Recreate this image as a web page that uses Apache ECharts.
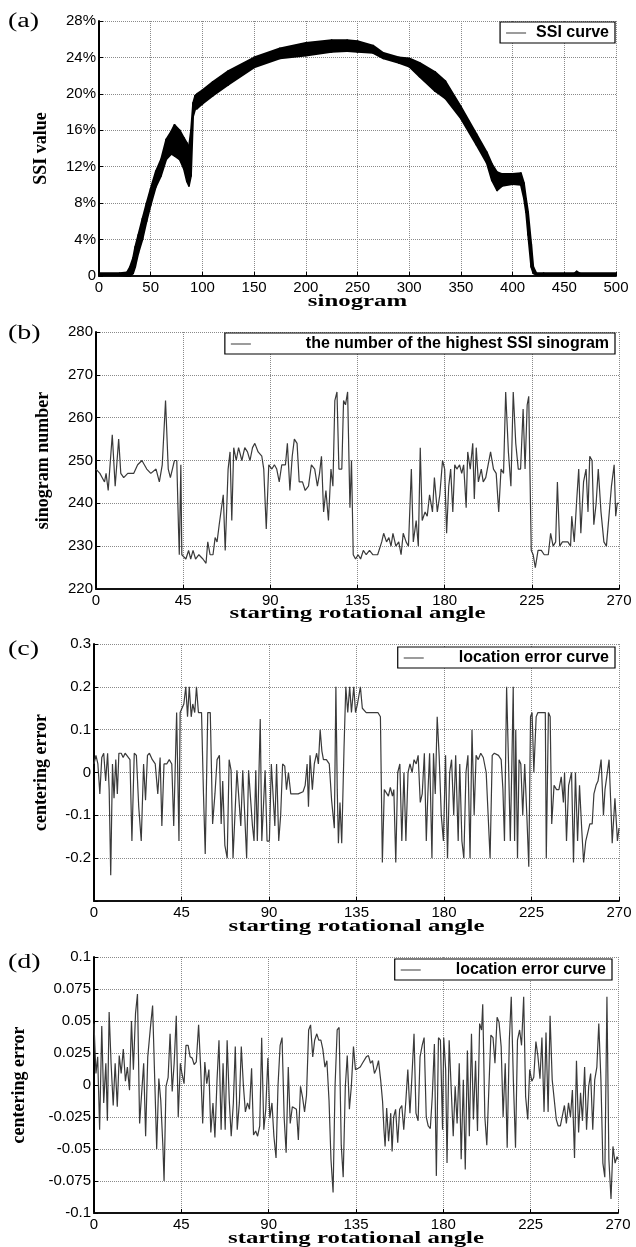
<!DOCTYPE html>
<html><head><meta charset="utf-8">
<script src="https://cdn.jsdelivr.net/npm/echarts@6/dist/echarts.min.js"></script>
<style>html,body{margin:0;padding:0;background:#fff}#c{width:636px;height:1247px}</style>
</head><body><div id="c"></div>
<script>
// ---- Panel (a): SSI curve envelope (sinogram index, lower %, upper %)
const ssiSinogram = [0,20,27,30,33,35,38,42,46,50,55,60,65,70,73,78,82,85,87,89,91,93,95,100,110,125,150,175,200,225,240,250,265,275,290,300,310,325,335,350,365,375,380,385,390,400,408,411,413,415,418,420,423,430,460,462,465,500];
const ssiLower   = [0.1,0.1,0,0,0.3,1.0,2.5,4.0,6.0,7.8,9.8,11.0,12.8,13.4,13.2,12.8,11.8,10.4,9.9,11.0,17.5,18.3,18.4,18.9,19.8,21.0,22.9,23.9,24.2,24.6,24.7,24.6,24.5,23.9,23.4,23.0,21.9,20.3,19.5,17.3,14.4,12.4,10.5,9.4,9.9,10.1,10.0,8.5,7.0,4.5,1.0,0.3,0.1,0.1,0.1,0.1,0.1,0.1];
const ssiUpper   = [0.3,0.3,0.4,1.0,2.0,3.2,4.5,6.3,8.0,9.6,11.5,12.8,15.0,15.9,16.6,16.0,15.2,14.6,14.2,16.0,19.0,19.8,20.0,20.4,21.3,22.5,24.0,25.0,25.6,25.9,25.9,25.8,25.3,24.5,24.0,23.9,23.4,22.4,21.4,18.6,15.6,13.6,12.3,11.4,11.2,11.2,11.3,10.2,8.5,7.0,3.5,1.0,0.3,0.3,0.3,0.5,0.3,0.3];
const ssiXTicks = [0,50,100,150,200,250,300,350,400,450,500];
const ssiYTicks = [0,4,8,12,16,20,24,28];

// ---- Panel (b): number of the highest SSI sinogram vs starting angle
const panelB = [[0,248],[2,247],[4.4,245],[5.2,247],[6.3,243],[8.4,256],[9.9,244],[11.7,255],[12.8,247],[14.3,246],[16.4,247],[19.5,247],[21.5,249],[23.7,250],[26.2,248],[28.3,247],[31,248],[32.7,245],[34.2,249],[35.9,264],[37.3,248],[38.4,246],[40.5,250],[41.7,250],[42.6,234],[43,228],[43.8,249],[44.3,228],[45.1,228],[46.4,227],[47.8,229],[48.9,227],[50.1,229],[51.4,227],[53.1,228],[55.2,227],[56.8,226],[57.7,231],[58.9,228],[60.4,228],[61.5,232],[62.5,231],[63.6,235],[65.7,242],[66.7,229],[68.2,248],[69.2,252],[70.1,236],[71.1,253],[72.4,250],[73.6,253],[75.3,250],[76.8,253],[78.2,252],[79.5,250],[80.8,253],[82,254],[83.7,252],[85.6,251],[86.6,248],[87.9,234],[89.2,249],[90.8,248],[92.1,249],[93.3,248],[94.6,245],[95.9,249],[97.8,249],[98.8,254],[100.1,243],[101.3,251],[102.4,255],[103.8,254],[104.9,245],[106.6,245],[108,243],[109.7,244],[111.2,249],[112.9,248],[114.3,244],[115.4,247],[116.4,251],[117.5,238],[118.7,243],[120,236],[121.3,248],[122.3,244],[123.3,264],[124.4,266],[125.4,248],[126.9,248],[127.8,264],[128.8,263],[129.9,266],[131.1,239],[131.9,250],[132.8,228],[134,227],[135.3,228],[136.6,227],[138,229],[139.5,228],[141.2,229],[142.9,228],[145.4,228],[147.5,231],[148.5,233],[150,231],[151.2,232],[152.3,230],[153.3,233],[154.8,230],[156.3,231],[157.5,228],[158.6,233],[160.1,231],[161.3,230],[162.8,248],[163.8,231],[165.3,236],[166.4,230],[167.4,253],[168.4,236],[169.9,238],[171,237],[172.2,242],[173.7,238],[174.7,246],[176.2,238],[177.5,242],[178.9,250],[180,248],[181,233],[182.1,244],[183.1,248],[184.2,238],[185.2,249],[186.3,248],[187.7,249],[188.8,247],[189.8,249],[191.1,239],[191.9,252],[193.2,248],[194.5,254],[195.3,241],[196.3,253],[197.4,245],[198.9,248],[199.9,245],[201.2,246],[203.7,252],[205.2,248],[206.6,247],[207.9,238],[209.1,248],[210.4,247],[211.5,266],[212.9,252],[214.2,244],[215.4,266],[216.7,254],[218,248],[219.2,248],[220.5,262],[221.5,248],[222.6,263],[223.4,265],[224,248],[224.7,229],[225.7,228],[226.8,225],[228.2,229],[229.9,229],[231.4,228],[233.5,228],[234.7,233],[236,230],[237.3,231],[238.2,245],[239.4,230],[240.8,231],[242.3,231],[243.6,231],[245,230],[245.6,237],[246.9,231],[248.2,241],[249.2,248],[250.3,233],[251.7,245],[253,248],[254,238],[254.9,251],[256.1,250],[257,235],[258.2,240],[259.3,248],[260.7,238],[262.2,231],[263.5,230],[265,238],[266.1,244],[267.5,249],[268.3,237],[269.1,240],[270,240]];
const bYTicks = [220,230,240,250,260,270,280];
const angleTicks = [0,45,90,135,180,225,270];

// ---- Panel (c): location error curve
const panelC = [[0,0.02],[1,0.04],[2,0.02],[3,-0.05],[4,0.035],[5,0.045],[6,-0.02],[7,0.045],[7.8,-0.04],[8.6,-0.24],[9.5,0.02],[10.3,-0.06],[11.2,0.03],[12,-0.05],[12.8,0.045],[14,0.045],[15,0.035],[16,0.045],[17,0.045],[18.5,0.03],[19.5,-0.16],[20.7,0.045],[21.8,0.04],[23,-0.08],[24.3,-0.16],[25.5,0.02],[26.5,-0.065],[27.5,0.04],[28.5,0.045],[30,0.03],[31.5,0.02],[32.8,-0.05],[34,0.035],[34.9,-0.125],[36,0.02],[37.4,0.02],[38.7,0.03],[40,0.02],[41,-0.125],[41.8,-0.125],[42.5,0.14],[43.7,-0.16],[44.3,0.14],[45.3,0.14],[46.2,0.16],[47.2,0.2],[48.1,0.13],[49,0.2],[50,0.13],[50.8,0.16],[51.8,0.14],[52.7,0.2],[53.7,0.14],[55.3,0.14],[56.3,-0.05],[57.2,-0.19],[58.5,0.14],[59.8,0.14],[61,-0.12],[62.2,-0.05],[63.3,0.03],[64.5,0.04],[65.4,-0.12],[66.2,-0.02],[67.3,-0.17],[68.5,-0.2],[69.5,0.03],[70.5,0.005],[71.5,-0.2],[72.5,-0.2],[73.5,0.005],[74.5,0.005],[75.5,-0.125],[76.5,0.005],[77.5,0.005],[78.5,-0.2],[79.5,0.005],[80.5,0.005],[81.5,-0.125],[82.3,-0.16],[83.2,0.005],[84,-0.16],[85.5,0.125],[86.3,-0.16],[87.2,-0.16],[88,0.005],[89,-0.16],[90.2,-0.16],[91.2,0.02],[92.2,0.02],[93,-0.125],[93.9,0.02],[95,-0.16],[96,-0.1],[97,0.02],[98.1,0.015],[99,-0.04],[100,0.0],[101.2,-0.05],[102.7,-0.05],[105,-0.05],[107.5,-0.045],[108.6,-0.03],[109.6,0.02],[110.3,-0.08],[111.1,0.04],[112.3,-0.04],[113.3,0.02],[114.5,0.045],[115.4,0.02],[116.3,0.1],[117.2,0.05],[118,0.03],[119.5,0.03],[121,0.02],[122.2,-0.065],[123.6,-0.13],[124.4,0.2],[125.1,-0.04],[125.7,-0.165],[126.5,-0.07],[127.4,-0.165],[128.6,0.06],[129.5,0.2],[130.5,0.14],[131.5,0.2],[132.4,0.14],[133.6,0.2],[134.5,0.14],[135.5,0.16],[137,0.2],[138,0.15],[140,0.14],[142,0.14],[144,0.14],[146,0.14],[147.3,0.13],[148.3,-0.21],[149.3,-0.04],[150.3,-0.04],[151.4,-0.055],[152.4,-0.035],[153.5,-0.055],[154.2,-0.04],[155.2,-0.21],[156.2,0.0],[157.3,0.02],[158.3,-0.16],[159.4,0.0],[160.4,-0.16],[161.5,0.0],[162.5,0.02],[163.6,0.0],[164.6,0.03],[165.7,0.02],[166.7,0.04],[167.8,-0.07],[168.8,-0.05],[169.9,0.045],[170.9,-0.16],[171.7,-0.05],[172.6,0.045],[173.8,-0.2],[174.6,0.045],[175.5,-0.05],[176.5,0.13],[177.5,0.04],[178.6,-0.1],[179.7,-0.16],[180.8,0.04],[181.8,-0.2],[182.9,0.0],[183.9,0.03],[185,-0.1],[186,0.04],[187.3,-0.16],[188.1,0.02],[189.2,-0.16],[190.2,-0.2],[191.3,0.0],[192.3,0.04],[193.4,-0.2],[194.4,0.1],[195.5,-0.1],[196.5,0.04],[197.6,0.03],[198.9,0.045],[200.2,0.035],[201.7,0.0],[202.7,-0.1],[203.7,-0.2],[204.8,0.04],[205.9,0.045],[206.9,0.045],[208,0.04],[209.4,0.03],[210.3,-0.04],[211.1,-0.16],[212.2,0.2],[213.2,0.02],[214.1,-0.16],[214.9,0.02],[215.6,0.2],[216.3,-0.16],[216.9,0.1],[217.8,-0.2],[218.6,0.03],[219.5,0.02],[220.5,-0.1],[221.5,0.02],[222.6,-0.1],[223.6,-0.22],[224.5,0.13],[225.3,0.14],[226.2,0.0],[227.4,0.13],[228.3,0.14],[229.5,0.14],[231,0.14],[232.1,0.14],[232.6,-0.2],[233.7,0.14],[234.6,0.13],[235.4,-0.12],[236.6,-0.03],[237.9,-0.04],[239.1,-0.04],[240.3,-0.01],[241.4,-0.07],[242,0.0],[243,-0.16],[244.1,-0.03],[245.6,0.0],[246.6,-0.21],[247.6,0.0],[248.7,-0.16],[249.7,-0.03],[250.8,-0.13],[251.8,-0.21],[252.9,-0.16],[253.9,-0.16],[255,-0.12],[256.2,-0.12],[257.1,-0.05],[258.2,-0.03],[259.2,-0.02],[260.8,0.03],[262,-0.1],[262.8,-0.04],[263.8,-0.04],[264.9,0.03],[266,-0.1],[266.5,-0.165],[267.9,-0.06],[269.2,-0.16],[270,-0.13]];
const cYTicks = [-0.3,-0.2,-0.1,0,0.1,0.2,0.3];

// ---- Panel (d): location error curve
const panelD = [[0,0.048],[1,0.009],[1.9,0.022],[2.9,-0.035],[4,0.046],[5,-0.014],[6.1,0.017],[6.9,-0.028],[7.8,0.057],[8.8,0.017],[9.9,-0.016],[10.9,0.017],[12,-0.017],[13,0.023],[14,0.009],[15.1,0.028],[16.2,0.003],[17.2,0.014],[18.3,-0.004],[19.3,0.05],[20.3,0.012],[21.4,0.056],[22.4,0.071],[23.5,-0.03],[24.5,-0.03],[25.6,0.017],[26.6,-0.04],[27.7,0.022],[29.2,0.047],[30.2,0.062],[31.3,0.004],[32.3,-0.05],[33.4,0.005],[34.4,-0.012],[35.5,-0.048],[36.1,-0.075],[37.1,-0.001],[38.2,0.006],[39.2,0.04],[40.3,-0.005],[41.3,0.017],[42.4,0.054],[43.4,-0.025],[44.5,0.017],[45.3,0.009],[46.4,0.001],[47.4,0.031],[48.5,0.031],[49.5,0.022],[50.6,0.021],[51.6,0.016],[52.7,0.018],[53.9,0.047],[55,0.012],[56,-0.03],[57.1,0.018],[58.1,0.001],[59.2,0.012],[60.2,-0.037],[61.3,-0.014],[62.3,-0.041],[63.4,0.004],[64.4,0.035],[65.5,-0.035],[66.5,0.017],[67.6,-0.035],[68.6,0.035],[69.7,-0.012],[70.7,-0.04],[71.8,-0.014],[72.8,0.03],[73.8,-0.035],[74.9,-0.014],[75.9,0.03],[77,-0.001],[78,-0.021],[79.1,-0.014],[80.1,-0.019],[81.2,0.013],[82.2,-0.039],[83.3,-0.036],[84.3,-0.04],[85.4,-0.032],[86.4,0.037],[87.5,-0.035],[88.5,-0.019],[89.6,0.021],[90.6,-0.026],[91.7,-0.014],[92.7,-0.04],[93.8,-0.057],[94.8,-0.001],[95.9,0.031],[96.9,0.037],[98,-0.026],[99,-0.053],[100.1,0.014],[101.1,-0.03],[102.2,-0.017],[103.2,-0.018],[104.3,-0.019],[105.3,-0.043],[106.4,-0.001],[107.4,-0.009],[108.5,-0.021],[109.5,-0.008],[110.6,0.043],[111.6,0.047],[112.7,0.022],[113.7,0.035],[114.8,0.04],[115.8,0.035],[116.9,0.035],[117.9,0.028],[119,0.014],[120,0.019],[121.1,-0.012],[122.1,-0.058],[123.2,-0.084],[124.2,-0.001],[125.3,0.043],[126.3,0.045],[127.4,-0.047],[128.4,-0.072],[129.5,-0.001],[130.5,0.023],[131.6,-0.019],[132.6,-0.001],[133.7,0.03],[134.7,0.012],[136.1,0.013],[137.2,0.014],[138.3,0.017],[139.3,0.016],[140.3,0.022],[141.4,0.023],[142.5,0.017],[143.5,0.019],[144.5,0.009],[145.6,0.013],[146.6,0.019],[147.7,0.004],[148.7,-0.013],[149.4,-0.035],[150,-0.048],[150.8,-0.018],[151.8,-0.044],[152.9,-0.022],[153.6,-0.052],[154.4,-0.025],[155.4,-0.019],[156.5,-0.045],[157.5,-0.019],[158.6,-0.016],[159.6,-0.035],[160.7,-0.012],[161.7,0.012],[162.8,-0.022],[163.8,0.006],[164.9,0.04],[165.9,-0.022],[167,-0.028],[168,0.022],[169.1,0.031],[170.1,0.037],[171.2,-0.025],[172.2,-0.032],[173.3,-0.034],[174.3,-0.009],[175.4,0.032],[176.4,-0.071],[177.5,0.037],[178.5,0.035],[179.6,-0.035],[180.2,0.037],[181.2,0.012],[181.9,-0.061],[183,0.035],[184,0.034],[185.1,-0.04],[186.1,-0.001],[187.1,-0.03],[188.2,0.017],[189.2,-0.058],[190.3,0.004],[191.3,-0.066],[192.4,0.027],[193.4,-0.04],[194.5,0.04],[195.5,-0.027],[196.6,0.019],[197.6,-0.036],[198.7,0.048],[199.7,0.043],[200.3,0.063],[201.4,-0.025],[202.4,-0.047],[203.5,-0.001],[204.5,0.039],[205.6,0.037],[206.6,0.017],[207.7,0.053],[208.7,0.049],[209.8,0.03],[210.8,-0.025],[211.9,0.017],[212.9,-0.049],[214,0.035],[215,0.069],[216.1,0.003],[217.2,-0.049],[218.2,0.035],[219.3,0.043],[220.3,0.031],[221.4,0.069],[222.4,-0.009],[223.5,-0.027],[224.5,0.012],[225.6,0.003],[226.6,0.006],[227.7,0.034],[228.7,0.023],[229.8,0.005],[230.8,0.037],[231.9,-0.021],[232.9,0.041],[234,-0.021],[235,0.054],[236.1,0.004],[237.1,0.004],[238.2,-0.027],[239.2,-0.032],[240.3,-0.032],[241.3,-0.031],[242.4,-0.016],[243.4,-0.03],[244.5,-0.014],[245.5,-0.025],[246.5,-0.004],[247.6,-0.057],[248.6,0.019],[249.7,-0.037],[250.7,-0.006],[251.7,-0.028],[252.8,0.014],[253.8,-0.035],[254.9,-0.001],[255.9,0.009],[257,-0.035],[258,0.004],[259.1,0.014],[260.1,0.048],[261.2,0.004],[262.2,-0.061],[263.2,-0.072],[264.3,0.069],[265.3,-0.058],[266.4,-0.089],[267.4,-0.048],[268.5,-0.061],[269.5,-0.056],[270,-0.058]];
const dYTicks = [-0.1,-0.075,-0.05,-0.025,0,0.025,0.05,0.075,0.1];

const panelLabels = ['(a)','(b)','(c)','(d)'];
const legendNames = ['SSI curve','the number of the highest SSI sinogram','location error curve','location error curve'];
const xTitles = ['sinogram','starting rotational angle','starting rotational angle','starting rotational angle'];
const yTitles = ['SSI value','sinogram number','centering error','centering error'];

// ---- build
const chart = echarts.init(document.getElementById('c'), null, {renderer:'canvas'});
const SANS = 'Liberation Sans, Arial, sans-serif';
const SERIF = 'Liberation Serif, Times New Roman, serif';
const fmtNum = v => String(+(+v).toFixed(3));

const grids = [
  {left:99, top:21, width:517, height:255},
  {left:96, top:332, width:523, height:257},
  {left:94, top:644, width:525, height:257},
  {left:94, top:957, width:524, height:256}
];
const xTickSets = [ssiXTicks, angleTicks, angleTicks, angleTicks];
const yTickSets = [ssiYTicks, bYTicks, cYTicks, dYTicks];
const yNameGaps = [49, 44, 44, 66];

function xAxisOf(i){
  const t = xTickSets[i];
  return {
    type:'value', gridIndex:i, min:t[0], max:t[t.length-1], interval:t[1]-t[0],
    axisLine:{show:true, onZero:false, lineStyle:{color:'#111', width:2}},
    axisTick:{show:true, inside:true, length:4, lineStyle:{color:'#000'}},
    axisLabel:{fontFamily:SANS, fontSize:15, color:'#000', margin:4, showMinLabel:true, showMaxLabel:true},
    splitLine:{show:true, lineStyle:{type:'dotted', color:'#8a8a8a', width:1}}
  };
}
function yAxisOf(i){
  const t = yTickSets[i];
  let fmt;
  if(i===0) fmt = v => v===0 ? '0' : v + '%';
  else if(i===2) fmt = v => (v <= t[0] + 1e-9) ? '' : fmtNum(v);
  else fmt = v => fmtNum(v);
  return {
    type:'value', gridIndex:i, min:t[0], max:t[t.length-1], interval:+(t[1]-t[0]).toFixed(4),
    name:yTitles[i], nameLocation:'middle', nameGap:yNameGaps[i],
    nameTextStyle:{fontFamily:SERIF, fontWeight:'bold', fontSize:18, color:'#000'},
    axisLine:{show:true, onZero:false, lineStyle:{color:'#000', width:2}},
    axisTick:{show:true, inside:true, length:4, lineStyle:{color:'#000'}},
    axisLabel:{fontFamily:SANS, fontSize:15, color:'#000', margin:3, formatter:fmt, showMinLabel:true, showMaxLabel:true},
    splitLine:{show:true, lineStyle:{type:'dotted', color:'#8a8a8a', width:1}}
  };
}

// band segments between consecutive envelope samples: [x0, lo0, hi0, x1, lo1, hi1]
const bandSegments = [];
for (let k = 0; k < ssiSinogram.length - 1; k++) {
  bandSegments.push([ssiSinogram[k], ssiLower[k], ssiUpper[k], ssiSinogram[k+1], ssiLower[k+1], ssiUpper[k+1]]);
}
function renderBand(params, api){
  const a0 = api.coord([api.value(0), api.value(1)]);
  const b0 = api.coord([api.value(0), api.value(2)]);
  const b1 = api.coord([api.value(3), api.value(5)]);
  const a1 = api.coord([api.value(3), api.value(4)]);
  return {
    type:'polygon',
    shape:{points:[a0,b0,b1,a1]},
    style:{fill:'#000', stroke:'#000', lineWidth:1.8, lineJoin:'round'}
  };
}

const series = [
  {name:legendNames[0], type:'custom', xAxisIndex:0, yAxisIndex:0, data:bandSegments,
   renderItem:renderBand, encode:{x:[0,3], y:[1,2,4,5]}, itemStyle:{color:'#555'}, silent:true},
  {name:legendNames[1], type:'line', xAxisIndex:1, yAxisIndex:1, data:panelB,
   symbol:'none', lineStyle:{color:'#3a3a3a', width:1.2}, itemStyle:{color:'#555'}},
  {name:legendNames[2], type:'line', xAxisIndex:2, yAxisIndex:2, data:panelC,
   symbol:'none', lineStyle:{color:'#3a3a3a', width:1.2}, itemStyle:{color:'#555'}},
  {name:legendNames[3], type:'line', xAxisIndex:3, yAxisIndex:3, data:panelD,
   symbol:'none', lineStyle:{color:'#3a3a3a', width:1.2}, itemStyle:{color:'#555'}}
];

const legendTops = [22, 333, 647, 959];
const legendRights = [21, 21, 21, 24];
const legendTextPad = [5, 50, 30, 30];
const legends = legendNames.map((n,i)=>({
  data:[{name:n, icon:'rect'}], top:legendTops[i], right:legendRights[i], orient:'horizontal',
  selectedMode:false, backgroundColor:'#fff', borderColor:'#000', borderWidth:1.2,
  padding:[3,6,2,6], itemWidth:20, itemHeight:1.3,
  itemStyle:{color:'#666'},
  textStyle:{fontFamily:SANS, fontWeight:'bold', fontSize:16, color:'#000', padding:[0,0,0,legendTextPad[i]]}
}));

// panel letters and horizontally stretched x-axis titles (as in the source figure)
const labelTops = [22, 334, 650, 963];
const xTitleY = [302, 614, 927, 1239];
const graphics = [];
panelLabels.forEach((t,i)=>graphics.push({
  type:'text', x:8, y:labelTops[i], scaleX:1.4,
  style:{text:t, font:'20px "Liberation Serif", serif', fill:'#000', align:'left', verticalAlign:'middle', textAlign:'left', textVerticalAlign:'middle'}
}));
xTitles.forEach((t,i)=>graphics.push({
  type:'text', x:grids[i].left + grids[i].width/2, y:xTitleY[i], scaleX:1.46,
  style:{text:t, font:'bold 17px "Liberation Serif", serif', fill:'#000', align:'center', verticalAlign:'middle', textAlign:'center', textVerticalAlign:'middle'}
}));

chart.setOption({
  backgroundColor:'#fff',
  animation:false,
  grid:grids,
  xAxis:[0,1,2,3].map(xAxisOf),
  yAxis:[0,1,2,3].map(yAxisOf),
  legend:legends,
  series:series,
  graphic:graphics
});
</script></body></html>
